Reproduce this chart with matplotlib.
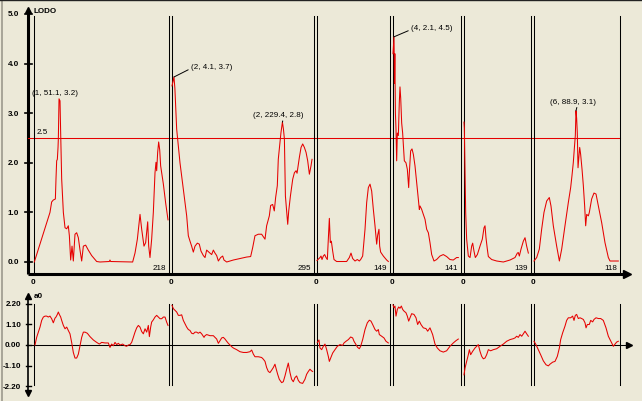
import matplotlib
matplotlib.use('Agg')
import matplotlib.pyplot as plt

plt.rcParams['font.family'] = ['Liberation Sans Narrow', 'Liberation Sans', 'DejaVu Sans']

# ---- 数据 ----
seg_n = [218, 295, 149, 141, 139, 118]
seg_labels = ['218', '295', '149', '141', '139', '118']

top1_x = [0.5, 25.8, 28.5, 31.2, 34.5, 35.5, 36.6, 37.7, 38.8, 39.3, 40.4, 42.0, 43.1, 44.7, 47.4,
          50.1, 52.8, 55.4, 57.1, 59.2, 61.4, 63.5, 66.2, 68.9, 71.6, 74.3, 77.0, 79.7, 83.4, 87.7,
          93.1, 101.2, 106.6, 121.7, 122.7, 123.7, 159.3, 163.1, 166.9, 171.2, 173.9, 177.6, 180.3,
          183.6, 185.2, 187.3, 190.0, 192.7, 195.4, 197.0, 198.1, 199.7, 201.3, 203.0, 204.5, 208.9,
          212.6, 216.4]
top1_y = [0.0, 1.00, 1.21, 1.25, 1.27, 1.67, 2.04, 2.07, 2.31, 2.48, 3.29, 3.25, 2.58, 1.67, 1.00,
          0.69, 0.67, 0.73, 0.53, 0.04, 0.32, 0.02, 0.56, 0.59, 0.49, 0.24, 0.02, 0.32, 0.34, 0.24,
          0.13, 0.01, 0.0, 0.01, 0.04, 0.01, 0.0, 0.18, 0.46, 0.96, 0.66, 0.32, 0.39,
          0.81, 0.32, 0.09, 0.46, 1.00, 1.80, 2.01, 1.84, 2.21, 2.42, 2.26, 1.94, 1.57,
          1.19, 0.85]

top2_x = [0, 4.1, 6.0, 9.7, 16.6, 23.5, 30.5, 33.9, 37.4, 40.8, 44.3, 47.8, 52.6, 56.7, 60.2,
          65.1, 68.6, 72.0, 77.6, 82.4, 85.9, 89.3, 92.8, 96.3, 101.1, 105.3, 108.0, 113.6, 127.4,
          141.3, 155.1, 163.4, 167.6, 172.4, 179.3, 186.2, 193.2, 196.6, 202.2, 204.9, 209.1, 212.5,
          215.3, 218.8, 220.8, 224.3, 226.4, 229.4, 231.5, 233.5, 235.6, 238.4, 240.4, 242.5, 246.0,
          250.8, 254.3, 257.7, 259.8, 264.6, 268.1, 271.5, 275.0, 278.5, 281.9, 285.4, 288.8, 290.9]
top2_y = [3.55, 3.73, 3.5, 2.68, 2.0, 1.47, 0.93, 0.53, 0.42, 0.32, 0.2, 0.32, 0.38, 0.36, 0.22,
          0.13, 0.09, 0.24, 0.19, 0.15, 0.24, 0.18, 0.13, 0.02, 0.09, 0.12, 0.04, 0.0, 0.04,
          0.07, 0.10, 0.11, 0.29, 0.53, 0.56, 0.56, 0.46, 0.73, 0.93, 1.14, 1.16, 1.03,
          1.30, 1.54, 2.07, 2.41, 2.61, 2.82, 2.68, 2.48, 1.33, 1.0, 0.76, 1.03, 1.33,
          1.67, 1.80, 1.84, 1.79, 2.11, 2.31, 2.38, 2.31, 2.21, 2.04, 1.77, 1.94, 2.07]

top3_x = [0, 2.0, 6.1, 8.2, 10.2, 12.9, 15.6, 18.4, 21.1, 23.1, 25.2, 27.2, 29.3, 32.0, 34.7,
          40.1, 60.5, 66.0, 69.4, 72.8, 77.6, 82.3, 86.4, 89.1, 93.2, 98.0, 101.4, 104.8, 108.2,
          111.6, 115.0, 118.4, 121.8, 123.8, 126.5, 127.9, 129.9, 135.4, 142.2, 145.6]
top3_y = [0.03, 0.05, 0.09, 0.12, 0.05, 0.12, 0.15, 0.09, 0.05, 0.46, 0.88, 0.39, 0.42, 0.22, 0.05,
          0.01, 0.01, 0.09, 0.18, 0.07, 0.02, 0.05, 0.02, 0.05, 0.12, 0.66, 1.2, 1.5, 1.57,
          1.43, 1.06, 0.73, 0.36, 0.54, 0.66, 0.32, 0.2, 0.12, 0.04, 0.01]

top4_x = [0, 2.1, 3.0, 3.8, 5.0, 6.2, 7.6, 9.0, 11.1, 13.0, 14.5, 16.0, 18.0, 20.0, 23.5,
          26.9, 29.7, 32.5, 33.9, 36.6, 39.4, 42.2, 45.6, 49.1, 52.5, 54.6, 56.0, 59.5, 62.9, 66.4,
          69.8, 73.3, 76.7, 80.2, 85.0, 90.5, 97.4, 104.3, 111.2, 118.1, 125.0, 131.9, 135.4]
top4_y = [4.2, 4.54, 3.6, 4.2, 3.0, 2.68, 2.04, 2.6, 2.55, 3.2, 3.53, 3.3, 2.8, 2.6, 2.04,
          2.0, 1.87, 1.5, 1.8, 2.24, 2.28, 2.17, 1.94, 1.6, 1.27, 1.06, 1.13, 1.06, 0.96, 0.86,
          0.66, 0.59, 0.39, 0.15, 0.02, 0.05, 0.12, 0.15, 0.11, 0.05, 0.04, 0.09, 0.09]

top5_x = [0, 0.7, 3.5, 5.5, 9.0, 12.5, 15.9, 18.0, 20.7, 23.5, 27.7, 33.2, 38.0, 41.5, 43.6,
          45.6, 48.4, 50.5, 57.4, 67.8, 81.6, 95.5, 105.8, 110.7, 112.7, 114.8, 118.3, 123.1,
          126.6, 130.0, 133.5]
top5_y = [2.82, 2.7, 1.0, 0.46, 0.12, 0.09, 0.32, 0.38, 0.22, 0.09, 0.15, 0.32, 0.46, 0.69, 0.73,
          0.49, 0.26, 0.11, 0.05, 0.02, 0.0, 0.04, 0.09, 0.18, 0.19, 0.12, 0.26, 0.42,
          0.49, 0.32, 0.18]

top6_x = [0, 3.7, 7.3, 10.5, 13.7, 17.4, 21.0, 23.3, 26.5, 31.1, 34.8, 38.0, 42.5, 47.1, 50.3,
          52.1, 53.9, 55.3, 56.7, 57.6, 58.5, 59.4, 60.4, 61.7, 62.7, 64.0, 65.9, 67.7, 69.5, 70.9,
          72.3, 74.6, 75.9, 79.1, 82.3, 85.1, 88.3, 92.9, 97.4, 102.0, 104.3, 115.7]
top6_y = [0.02, 0.09, 0.26, 0.66, 1.0, 1.23, 1.3, 1.13, 0.73, 0.32, 0.02, 0.26, 0.73, 1.2, 1.5,
          1.74, 2.0, 2.28, 2.55, 3.05, 2.9, 2.61, 1.9, 2.14, 2.31, 2.17, 1.87, 1.54, 1.13, 0.73,
          0.96, 0.93, 1.0, 1.27, 1.39, 1.37, 1.13, 0.79, 0.39, 0.09, 0.02, 0.02]

bot1_x = [1.6, 4.3, 7.0, 9.7, 12.4, 15.1, 17.8, 20.5, 23.1, 25.8,
          28.5, 31.2, 33.9, 35.5, 37.7, 39.3, 40.9, 43.1, 44.7, 47.4,
          50.1, 52.8, 55.4, 58.1, 60.8, 63.5, 66.2, 68.9, 71.6, 74.3,
          77.0, 79.7, 82.4, 86.1, 90.4, 95.8, 101.2, 105.5, 109.3, 114.7,
          120.0, 122.7, 125.4, 128.1, 130.8, 133.5, 136.2, 138.9, 143.2, 147.0,
          149.6, 152.3, 155.0, 157.7, 160.4, 163.1, 165.8, 168.5, 171.2, 173.9,
          176.6, 179.3, 182.0, 184.6, 186.3, 188.4, 190.0, 192.7, 195.4, 198.1,
          200.8, 203.5, 206.2, 208.9, 211.6, 214.2, 216.4]
bot1_y = [0, 0.41, 0.69, 0.96, 1.32, 1.5, 1.55, 1.55, 1.5, 1.55,
          1.41, 1.19, 1.44, 1.5, 1.64, 1.77, 1.64, 1.5, 1.32, 1.05,
          0.87, 0.96, 0.78, 0.6, 0.14, -0.4, -0.7, -0.7, -0.49, -0.04,
          0.41, 0.69, 0.69, 0.63, 0.45, 0.27, 0.14, 0.05, 0.14, 0.11,
          0.11, -0.13, 0.05, -0.04, 0.14, 0.02, 0.09, 0, 0.05, -0.04,
          -0.07, 0, 0.02, 0.14, 0.41, 0.69, 0.92, 1.05, 0.96, 0.72,
          0.6, 0.87, 0.69, 1.05, 0.45, 0.96, 1.23, 1.35, 1.5, 1.59,
          1.5, 1.41, 1.41, 1.5, 1.5, 1.23, 1.05]

bot2_x = [0, 2.8, 6.2, 9.7, 13.2, 16.6, 20.1, 23.5, 27.0, 30.5,
          33.9, 37.4, 40.8, 44.3, 47.8, 51.2, 54.7, 58.2, 61.6, 66.5,
          68.6, 72.0, 78.9, 85.9, 89.3, 92.8, 96.3, 99.7, 103.2, 106.6,
          110.1, 113.6, 117.0, 120.5, 124.0, 127.4, 134.3, 141.3, 148.2, 155.1,
          162.0, 165.5, 169.0, 172.4, 179.3, 186.2, 189.7, 193.2, 196.6, 200.1,
          203.5, 207.0, 210.5, 213.9, 216.0, 219.5, 222.9, 227.8, 231.2, 234.7,
          238.2, 241.6, 245.1, 248.5, 252.0, 255.5, 258.9, 262.4, 265.9, 271.4,
          276.2, 279.7, 283.2, 286.6, 290.1, 292.2]
bot2_y = [2.13, 1.95, 1.86, 1.77, 1.59, 1.59, 1.62, 1.32, 1.14, 0.96,
          0.83, 0.78, 0.63, 0.6, 0.69, 0.69, 0.63, 0.69, 0.6, 0.41,
          0.5, 0.56, 0.5, 0.5, 0.41, 0.32, 0.09, 0.23, 0.38, 0.41,
          0.32, 0.2, 0.09, 0, -0.09, -0.16, -0.25, -0.36, -0.4, -0.4,
          -0.36, -0.27, -0.49, -0.63, -0.63, -0.67, -0.76, -0.88, -1.21, -1.42,
          -1.48, -1.35, -1.21, -1.03, -1.24, -1.57, -1.84, -2.02, -1.97, -1.66,
          -1.3, -0.97, -1.48, -1.84, -1.97, -1.75, -1.66, -1.9, -2.02, -2.06,
          -1.84, -1.57, -1.42, -1.3, -1.39, -1.42]

bot3_x = [0.6, 4.0, 6.1, 9.5, 12.9, 16.3, 19.7, 23.1, 25.2, 27.9,
          32.0, 36.7, 41.5, 46.9, 52.4, 55.1, 59.2, 64.0, 68.7, 72.8,
          75.5, 79.6, 83.0, 86.4, 89.1, 93.2, 98.0, 102.7, 106.8, 110.2,
          113.6, 118.4, 121.8, 125.2, 127.2, 132.0, 136.7, 140.8, 145.6]
bot3_y = [0.14, 0.27, -0.16, -0.25, -0.07, 0.05, -0.25, -0.61, -0.88, -0.7,
          -0.43, -0.25, -0.07, 0.02, -0.02, 0.11, 0.2, 0.29, 0.43, 0.38,
          0.2, 0.02, -0.13, -0.2, -0.07, 0.29, 0.83, 1.19, 1.33, 1.28,
          1.1, 0.83, 0.74, 0.83, 0.56, 0.47, 0.38, 0.2, 0.11]

bot4_x = [0, 2.1, 4.1, 6.2, 9.0, 11.8, 14.5, 17.3, 20.0, 22.8,
          26.9, 29.7, 32.5, 35.3, 38.7, 43.5, 47.7, 51.1, 54.6, 58.0,
          62.9, 68.4, 71.9, 76.7, 82.2, 87.1, 91.9, 97.4, 104.3, 111.2,
          118.1, 125.0, 130.5, 135.4]
bot4_y = [2.15, 2.0, 2.09, 1.55, 1.91, 2.04, 1.97, 2.09, 1.91, 1.82,
          1.73, 1.55, 1.28, 1.46, 1.68, 1.64, 1.46, 1.1, 1.28, 1.1,
          0.92, 0.88, 0.74, 0.92, 0.56, 0.05, -0.16, -0.31, -0.38, -0.31,
          -0.07, 0.11, 0.23, 0.32]

bot5_x = [0, 2.1, 5.5, 9.0, 11.1, 13.8, 17.9, 22.8, 26.3, 29.7,
          33.2, 36.7, 40.1, 43.6, 47.0, 50.5, 55.3, 60.9, 67.8, 74.7,
          81.6, 88.5, 95.5, 102.4, 105.8, 109.3, 112.7, 116.2, 119.7, 123.1,
          126.6, 130.0, 133.5]
bot5_y = [-1.6, -1.24, -0.88, -0.52, -0.25, -0.52, -0.34, -0.16, -0.07, 0.02,
          -0.34, -0.61, -0.74, -0.7, -0.52, -0.25, -0.31, -0.25, -0.2, -0.07,
          0.05, 0.2, 0.29, 0.34, 0.38, 0.47, 0.41, 0.56, 0.47, 0.6,
          0.74, 0.6, 0.47]

bot6_x = [0, 2.7, 5.9, 9.1, 12.8, 16.5, 19.7, 21.9, 25.6, 28.8,
          32.0, 34.8, 36.6, 39.3, 42.5, 44.8, 47.1, 50.3, 53.0, 54.9,
          56.7, 58.5, 60.8, 63.1, 65.4, 67.7, 70.0, 71.4, 73.2, 75.9,
          77.8, 80.5, 82.3, 85.1, 88.3, 91.5, 95.1, 98.8, 102.0, 104.3,
          106.6, 108.9, 111.2, 113.5, 115.7]
bot6_y = [0.2, 0.02, -0.25, -0.52, -0.85, -1.06, -1.12, -1.03, -0.92, -0.88,
          -0.61, -0.16, 0.29, 0.65, 1.01, 1.32, 1.46, 1.46, 1.55, 1.32,
          1.59, 1.64, 1.42, 1.46, 1.42, 1.37, 1.19, 0.92, 1.1, 1.1,
          1.32, 1.24, 1.37, 1.46, 1.42, 1.42, 1.32, 0.92, 0.47, 0.29,
          0.11, -0.07, 0.05, 0.16, 0.2]

top_series = [(top1_x, top1_y), (top2_x, top2_y), (top3_x, top3_y),
              (top4_x, top4_y), (top5_x, top5_y), (top6_x, top6_y)]
bot_series = [(bot1_x, bot1_y), (bot2_x, bot2_y), (bot3_x, bot3_y),
              (bot4_x, bot4_y), (bot5_x, bot5_y), (bot6_x, bot6_y)]

top_ticks = [0.0, 1.0, 2.0, 3.0, 4.0, 5.0]
top_tick_labels = ['0.0', '1.0', '2.0', '3.0', '4.0', '5.0']
bot_ticks = [-2.2, -1.1, 0.0, 1.1, 2.2]
bot_tick_labels = ['-2.20', '-1.10', '0.00', '1.10', '2.20']
limit_value = 2.5

# 峰值标注: (段号, x, y, 文字)
peak_notes = [(0, 40.4, 3.29, '(1, 51.1, 3.2)'),
              (1, 4.1, 3.73, '(2, 4.1, 3.7)'),
              (1, 229.4, 2.82, '(2, 229.4, 2.8)'),
              (3, 2.1, 4.54, '(4, 2.1, 4.5)'),
              (5, 57.6, 3.05, '(6, 88.9, 3.1)')]

# ---- 版面 (像素) ----
W, H, DPI = 642, 402, 100
BG = '#ece9d8'
RED = '#e60000'
seg_px = [(34, 169), (172, 314), (317, 390), (393, 461), (464, 531), (534, 620)]
note_style = {0: dict(off=(-4, 3), ha='center', va='bottom', rel=None),
              1: dict(off=(17, 10), ha='left', va='center', rel=(0, 0.3)),
              2: dict(off=(-4, 4), ha='center', va='bottom', rel=(0.6, 0)),
              3: dict(off=(17, 9), ha='left', va='center', rel=(0, 0.25)),
              4: dict(off=(-3, 6), ha='center', va='bottom', rel=(0.6, 0))}

TOP_ZERO, TOP_K = 263, 49.6
BOT_ZERO, BOT_K = 346, 18.64


def top_val(py):
    return (TOP_ZERO - py) / TOP_K


def bot_val(py):
    return (BOT_ZERO - py) / BOT_K


top_ylim = (top_val(290), top_val(0))
bot_ylim = (bot_val(402), bot_val(290))

fig = plt.figure(figsize=(W / DPI, H / DPI), dpi=DPI, facecolor=BG)


def px_axes(x0, x1, y0, y1):
    ax = fig.add_axes([x0 / W, 1 - y1 / H, (x1 - x0) / W, (y1 - y0) / H])
    ax.set_axis_off()
    ax.patch.set_alpha(0)
    return ax


FS = 5.8
LW = 0.75

# 边框
deco = px_axes(0, W, 0, H)
deco.set_xlim(0, W)
deco.set_ylim(H, 0)
deco.plot([2, 2], [0, H], color='#9c998d', lw=1.2)
deco.plot([0, W], [0.5, 0.5], color='#222222', lw=1.0)

# ---- 上图 ----
ft = px_axes(0, W, 0, 290)
ft.set_xlim(0, W)
ft.set_ylim(top_ylim)
xa = top_val(275)
ft.plot([28, 28], [xa, top_val(13)], color='k', lw=2.2, solid_capstyle='butt')
ft.plot(28, top_val(11), marker='^', ms=5, color='k')
ft.plot([28, 624], [xa, xa], color='k', lw=2.2, solid_capstyle='butt')
ft.plot(627, xa, marker='>', ms=6, color='k')
for v, lab in zip(top_ticks, top_tick_labels):
    ft.plot([25, 32], [v, v], color='k', lw=1.2)
    ft.text(19, v, lab, ha='right', va='center', fontsize=FS, fontweight='bold')
ft.text(34, top_val(11), 'LODO', ha='left', va='center', fontsize=FS, fontweight='bold')
ft.plot([28, 620], [limit_value, limit_value], color=RED, lw=LW)
ft.text(37, top_val(133), '2.5', ha='left', va='center', fontsize=FS)
for (x0, x1), lab in zip(seg_px, seg_labels):
    for x in (x0, x1):
        ft.plot([x, x], [top_val(17), xa], color='k', lw=LW)
    ft.text(x1 - 3, top_val(268), lab, ha='right', va='center', fontsize=FS)
    ft.text(x0 - 1, top_val(282), '0', ha='center', va='center', fontsize=FS, fontweight='bold')

top_axes = []
for (x0, x1), n, (xs, ys) in zip(seg_px, seg_n, top_series):
    ax = px_axes(x0, x1, 0, 290)
    ax.set_xlim(0, n)
    ax.set_ylim(top_ylim)
    ax.plot(xs, ys, color=RED, lw=LW, clip_on=False)
    top_axes.append(ax)

for k, (si, px, py, txt) in enumerate(peak_notes):
    st = note_style[k]
    props = None
    if st['rel'] is not None:
        props = dict(arrowstyle='-', color='k', lw=0.7, shrinkA=0, shrinkB=0,
                     relpos=st['rel'])
    top_axes[si].annotate(txt, xy=(px, py), xytext=st['off'], textcoords='offset pixels',
                          ha=st['ha'], va=st['va'], fontsize=FS, arrowprops=props,
                          annotation_clip=False)

# ---- 下图 ----
fb = px_axes(0, W, 290, 402)
fb.set_xlim(0, W)
fb.set_ylim(bot_ylim)
fb.plot([28, 28], [bot_val(393), bot_val(298)], color='k', lw=1.2)
fb.plot(28, bot_val(297), marker='^', ms=4, color='k')
fb.plot(28, bot_val(394), marker='v', ms=4, color='k')
fb.plot([28, 626], [0, 0], color='k', lw=LW)
fb.plot(629, 0, marker='>', ms=4.5, color='k')
for v, lab in zip(bot_ticks, bot_tick_labels):
    fb.plot([26, 31], [v, v], color='k', lw=1.0)
    fb.text(21, v, lab, ha='right', va='center', fontsize=FS, fontweight='bold')
fb.text(34, bot_val(297), 'a0', ha='left', va='center', fontsize=FS, fontweight='bold')
for x0, x1 in seg_px:
    for x in (x0, x1):
        fb.plot([x, x], [bot_val(305), bot_val(386)], color='k', lw=LW)

for (x0, x1), n, (xs, ys) in zip(seg_px, seg_n, bot_series):
    ax = px_axes(x0, x1, 290, 402)
    ax.set_xlim(0, n)
    ax.set_ylim(bot_ylim)
    ax.plot(xs, ys, color=RED, lw=LW, clip_on=False)

fig.savefig('out.png', dpi=DPI, facecolor=BG)
